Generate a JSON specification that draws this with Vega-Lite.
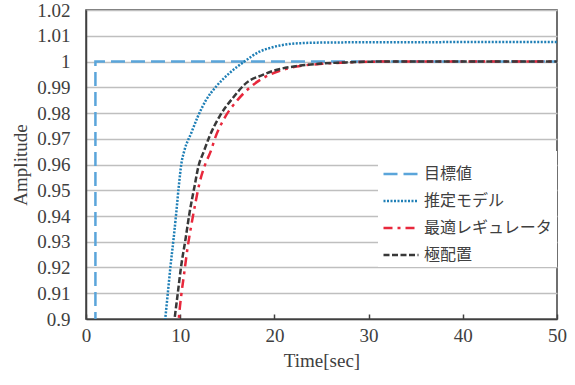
{
  "$schema": "https://vega.github.io/schema/vega-lite/v6.json",
  "width": 471,
  "height": 309,
  "autosize": {"type": "none"},
  "padding": {"left": 86, "top": 10, "right": 18, "bottom": 66},
  "background": "white",
  "config": {
    "view": {"stroke": "#404040", "strokeWidth": 1.5},
    "axis": {
      "labelFont": "Liberation Serif",
      "titleFont": "Liberation Serif",
      "labelFontSize": 19,
      "titleFontSize": 19,
      "labelColor": "#404040",
      "titleColor": "#404040",
      "titleFontWeight": "normal",
      "domainColor": "#404040",
      "domainWidth": 1.5,
      "tickColor": "#404040",
      "tickWidth": 1.5
    },
    "legend": {
      "labelFont": "Noto Sans CJK JP",
      "labelFontSize": 16,
      "labelColor": "#404040"
    }
  },
  "data": {
    "values": [
      {"s": "目標値", "t": 0, "v": 0},
      {"s": "目標値", "t": 1, "v": 0},
      {"s": "目標値", "t": 1, "v": 1},
      {"s": "目標値", "t": 50, "v": 1},

      {"s": "推定モデル", "t": 8.1, "v": 0.8887},
      {"s": "推定モデル", "t": 8.41, "v": 0.9},
      {"s": "推定モデル", "t": 8.69, "v": 0.9102},
      {"s": "推定モデル", "t": 8.97, "v": 0.9205},
      {"s": "推定モデル", "t": 9.29, "v": 0.9309},
      {"s": "推定モデル", "t": 9.58, "v": 0.9412},
      {"s": "推定モデル", "t": 9.85, "v": 0.9515},
      {"s": "推定モデル", "t": 10.12, "v": 0.9602},
      {"s": "推定モデル", "t": 10.45, "v": 0.9655},
      {"s": "推定モデル", "t": 11.17, "v": 0.9722},
      {"s": "推定モデル", "t": 11.87, "v": 0.9786},
      {"s": "推定モデル", "t": 12.76, "v": 0.9851},
      {"s": "推定モデル", "t": 13.82, "v": 0.9903},
      {"s": "推定モデル", "t": 15.23, "v": 0.9955},
      {"s": "推定モデル", "t": 16.82, "v": 1.0},
      {"s": "推定モデル", "t": 18.41, "v": 1.0038},
      {"s": "推定モデル", "t": 19.47, "v": 1.0052},
      {"s": "推定モデル", "t": 20.88, "v": 1.0064},
      {"s": "推定モデル", "t": 22.65, "v": 1.0071},
      {"s": "推定モデル", "t": 26, "v": 1.0074},
      {"s": "推定モデル", "t": 35, "v": 1.0075},
      {"s": "推定モデル", "t": 50, "v": 1.0076},

      {"s": "最適レギュレータ", "t": 9.75, "v": 0.895},
      {"s": "最適レギュレータ", "t": 9.85, "v": 0.9},
      {"s": "最適レギュレータ", "t": 10.1, "v": 0.9089},
      {"s": "最適レギュレータ", "t": 10.38, "v": 0.9166},
      {"s": "最適レギュレータ", "t": 10.81, "v": 0.9283},
      {"s": "最適レギュレータ", "t": 11.16, "v": 0.936},
      {"s": "最適レギュレータ", "t": 11.62, "v": 0.9451},
      {"s": "最適レギュレータ", "t": 12.05, "v": 0.9528},
      {"s": "最適レギュレータ", "t": 12.58, "v": 0.9593},
      {"s": "最適レギュレータ", "t": 13.3, "v": 0.9657},
      {"s": "最適レギュレータ", "t": 13.64, "v": 0.9696},
      {"s": "最適レギュレータ", "t": 14.7, "v": 0.978},
      {"s": "最適レギュレータ", "t": 16.1, "v": 0.9851},
      {"s": "最適レギュレータ", "t": 17.53, "v": 0.9903},
      {"s": "最適レギュレータ", "t": 19.12, "v": 0.9942},
      {"s": "最適レギュレータ", "t": 20.5, "v": 0.9963},
      {"s": "最適レギュレータ", "t": 22.3, "v": 0.998},
      {"s": "最適レギュレータ", "t": 25.1, "v": 0.9991},
      {"s": "最適レギュレータ", "t": 29, "v": 0.9998},
      {"s": "最適レギュレータ", "t": 33, "v": 1.0},
      {"s": "最適レギュレータ", "t": 50, "v": 1.0},

      {"s": "極配置", "t": 9.1, "v": 0.891},
      {"s": "極配置", "t": 9.4, "v": 0.9},
      {"s": "極配置", "t": 9.75, "v": 0.9102},
      {"s": "極配置", "t": 10.1, "v": 0.9205},
      {"s": "極配置", "t": 10.56, "v": 0.9309},
      {"s": "極配置", "t": 10.99, "v": 0.9412},
      {"s": "極配置", "t": 11.52, "v": 0.9515},
      {"s": "極配置", "t": 11.95, "v": 0.9595},
      {"s": "極配置", "t": 12.5, "v": 0.965},
      {"s": "極配置", "t": 13.11, "v": 0.9709},
      {"s": "極配置", "t": 14.17, "v": 0.9786},
      {"s": "極配置", "t": 15.58, "v": 0.9858},
      {"s": "極配置", "t": 17.0, "v": 0.9916},
      {"s": "極配置", "t": 18.76, "v": 0.9948},
      {"s": "極配置", "t": 20.18, "v": 0.9967},
      {"s": "極配置", "t": 22.3, "v": 0.9982},
      {"s": "極配置", "t": 25, "v": 0.9992},
      {"s": "極配置", "t": 28, "v": 0.9997},
      {"s": "極配置", "t": 32, "v": 1.0},
      {"s": "極配置", "t": 50, "v": 1.0}
    ]
  },
  "encoding": {
    "x": {
      "field": "t",
      "type": "quantitative",
      "scale": {"domain": [0, 50], "nice": false, "zero": false},
      "axis": {
        "title": "Time[sec]",
        "values": [0, 10, 20, 30, 40, 50],
        "grid": false,
        "tickSize": -5,
        "labelPadding": 12,
        "titlePadding": 6,
        "labelFlush": false
      }
    },
    "y": {
      "field": "v",
      "type": "quantitative",
      "scale": {"domain": [0.9, 1.02], "nice": false, "zero": false},
      "axis": {
        "title": "Amplitude",
        "values": [0.9, 0.91, 0.92, 0.93, 0.94, 0.95, 0.96, 0.97, 0.98, 0.99, 1.0, 1.01, 1.02],
        "labelExpr": "format(datum.value, '.2~f')",
        "ticks": false,
        "labelPadding": 16,
        "titlePadding": 6,
        "grid": true,
        "gridColor": "#BFBFBF",
        "gridWidth": 1.5,
        "labelFlush": false
      }
    },
    "color": {
      "field": "s",
      "type": "nominal",
      "scale": {
        "domain": ["目標値", "推定モデル", "最適レギュレータ", "極配置"],
        "range": ["#5AA5DA", "#1F7FB6", "#E8283C", "#383838"]
      },
      "legend": {
        "title": null,
        "orient": "none",
        "legendX": 292,
        "legendY": 141,
        "symbolType": "stroke",
        "symbolSize": 1225,
        "symbolStrokeWidth": 2.5,
        "labelOffset": 4,
        "rowPadding": -5.4,
        "padding": 4,
        "fillColor": "white",
        "strokeColor": null
      }
    },
    "strokeDash": {
      "field": "s",
      "type": "nominal",
      "scale": {
        "domain": ["目標値", "推定モデル", "最適レギュレータ", "極配置"],
        "range": [[14, 6], [2, 1.5], [9, 5, 3, 5], [6, 2.5]]
      }
    },
    "order": {"value": null}
  },
  "layer": [
    {
      "transform": [{"filter": "datum.s === '目標値'"}],
      "mark": {"type": "line", "clip": true, "strokeWidth": 2.5}
    },
    {
      "transform": [{"filter": "datum.s !== '目標値'"}],
      "mark": {"type": "line", "clip": true, "strokeWidth": 2.5, "interpolate": "monotone"}
    }
  ]
}
